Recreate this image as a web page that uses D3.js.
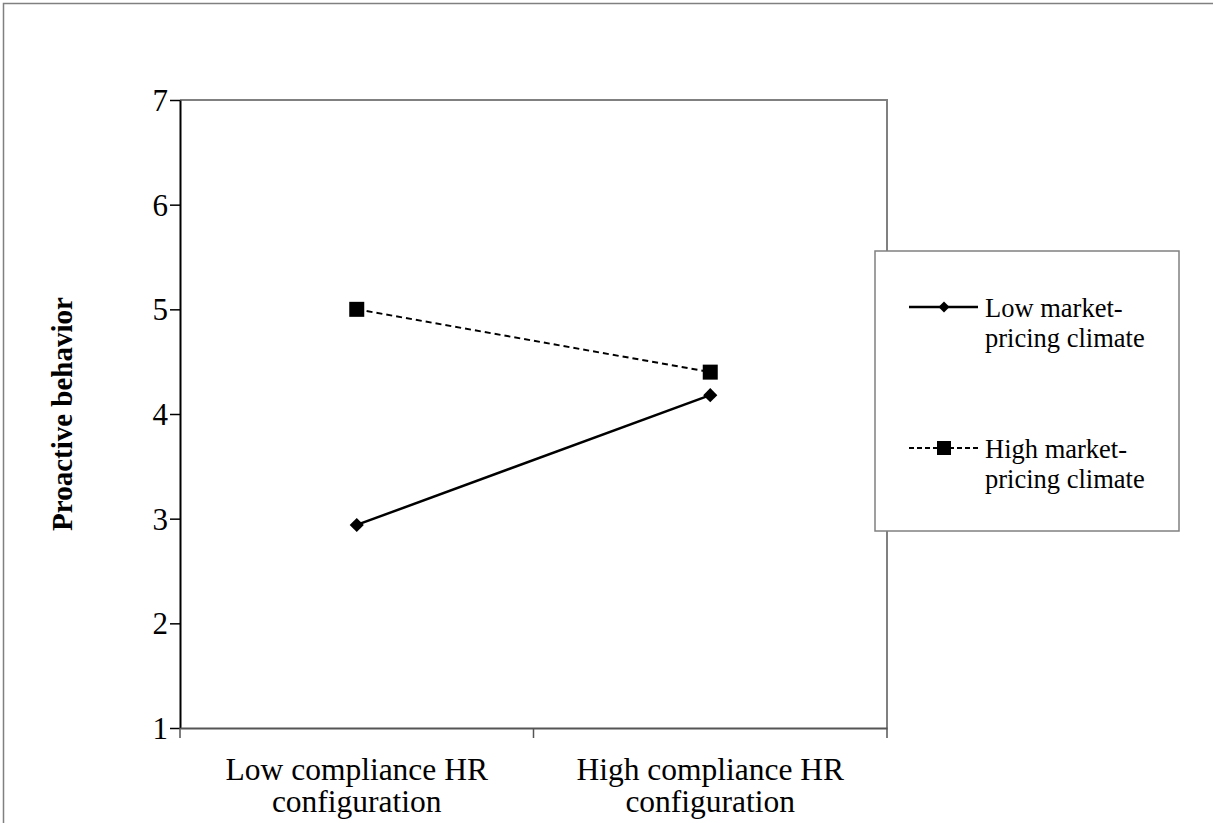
<!DOCTYPE html>
<html><head><meta charset="utf-8">
<script src="https://cdn.jsdelivr.net/npm/d3@7"></script>
<style>body{margin:0;background:#fff}svg{display:block}text{font-family:"Liberation Serif","Times New Roman",serif;fill:#000}</style>
</head><body>
<script>
const categories = ["Low compliance HR|configuration", "High compliance HR|configuration"];
const seriesNames = ["Low market-|pricing climate", "High market-|pricing climate"];
const lowMarket = [2.94, 4.18];
const highMarket = [5.00, 4.40];
const yTicks = [1, 2, 3, 4, 5, 6, 7];

const W = 1213, H = 823;
const svg = d3.select("body").append("svg").attr("width", W).attr("height", H);

// outer frame
svg.append("rect").attr("x", 3.5).attr("y", 3.5).attr("width", W + 10).attr("height", H + 10)
  .attr("fill", "none").attr("stroke", "#808080").attr("stroke-width", 1.5);

const pL = 180, pR = 887, pT = 100, pB = 728;
const x = d3.scaleBand().domain(categories).range([pL, pR]).padding(0);
const y = d3.scaleLinear().domain([1, 7]).range([pB, pT]);

// plot border (top/right gray)
svg.append("path").attr("d", `M${pL},${pT}H${pR}V${pB}`).attr("fill", "none")
  .attr("stroke", "#808080").attr("stroke-width", 2);

// y axis
const ya = svg.append("g").attr("transform", `translate(${pL},0)`)
  .call(d3.axisLeft(y).tickValues(yTicks).tickFormat(d3.format("d")).tickSize(10).tickSizeOuter(0).tickPadding(2));
ya.select(".domain").attr("stroke", "#000").attr("stroke-width", 2);
ya.selectAll(".tick line").attr("stroke", "#000").attr("stroke-width", 1.5);
ya.selectAll(".tick text").style("font-family", '"Liberation Serif",serif').style("font-size", "31px").attr("dy", "0.34em");

// x axis
const xa = svg.append("g").attr("transform", `translate(0,${pB})`)
  .call(d3.axisBottom(x).tickSize(0).tickFormat(""));
xa.select(".domain").attr("stroke", "#555").attr("stroke-width", 2);
const xTickPos = [pL, ...categories.map(c => x(c) + x.bandwidth())];
svg.append("g").selectAll("line").data(xTickPos).join("line")
  .attr("x1", d => d).attr("x2", d => d).attr("y1", pB).attr("y2", pB + 10)
  .attr("stroke", "#555").attr("stroke-width", 1.5);

// x labels
categories.forEach(c => {
  const parts = c.split("|");
  const t = svg.append("text").attr("x", x(c) + x.bandwidth() / 2).attr("y", 780)
    .attr("text-anchor", "middle").style("font-size", "31.5px");
  parts.forEach((p, i) => t.append("tspan").attr("x", x(c) + x.bandwidth() / 2).attr("dy", i ? 32 : 0).text(p));
});

// y label
svg.append("text").attr("transform", `translate(72,${(pT + pB) / 2}) rotate(-90)`)
  .attr("text-anchor", "middle").style("font-size", "29px").style("font-weight", "bold").text("Proactive behavior");

const cx = c => x(c) + x.bandwidth() / 2;
const line = d3.line().x((d, i) => cx(categories[i])).y(d => y(d));

// low series (solid, diamonds)
svg.append("path").datum(lowMarket).attr("d", line).attr("fill", "none").attr("stroke", "#000").attr("stroke-width", 2.5);
// high series (dashed, squares)
svg.append("path").datum(highMarket).attr("d", line).attr("fill", "none").attr("stroke", "#000")
  .attr("stroke-width", 2).attr("stroke-dasharray", "6,4");

svg.append("g").selectAll("path").data(lowMarket).join("path")
  .attr("d", d3.symbol().type(d3.symbolSquare).size(100))
  .attr("transform", (d, i) => `translate(${cx(categories[i])},${y(d)}) rotate(45)`).attr("fill", "#000");
svg.append("g").selectAll("rect").data(highMarket).join("rect")
  .attr("x", (d, i) => cx(categories[i]) - 7.5).attr("y", d => y(d) - 7.5).attr("width", 15).attr("height", 15).attr("fill", "#000");

// legend
const lg = svg.append("g");
lg.append("rect").attr("x", 875).attr("y", 251).attr("width", 304).attr("height", 280)
  .attr("fill", "#fff").attr("stroke", "#808080").attr("stroke-width", 1.5);
const legY = [307, 448];
seriesNames.forEach((s, i) => {
  const ly = legY[i];
  lg.append("line").attr("x1", 909).attr("x2", 978).attr("y1", ly).attr("y2", ly).attr("stroke", "#000")
    .attr("stroke-width", i ? 2 : 2.5).attr("stroke-dasharray", i ? "5,3" : null);
  if (i === 0) {
    lg.append("path").attr("d", d3.symbol().type(d3.symbolSquare).size(60)())
      .attr("transform", `translate(944,${ly}) rotate(45)`).attr("fill", "#000");
  } else {
    lg.append("rect").attr("x", 937).attr("y", ly - 7).attr("width", 14).attr("height", 14).attr("fill", "#000");
  }
  const t = lg.append("text").attr("x", 985).attr("y", ly + 10).style("font-size", "26.5px");
  s.split("|").forEach((p, k) => t.append("tspan").attr("x", 985).attr("dy", k ? 30 : 0).text(p));
});
</script>
</body></html>
